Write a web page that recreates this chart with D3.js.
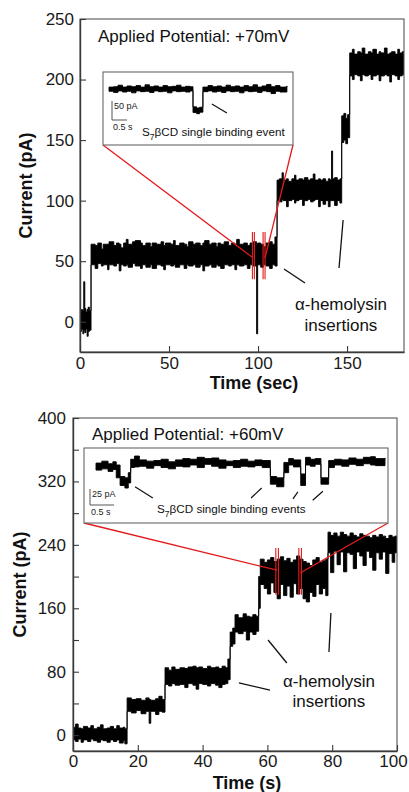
<!DOCTYPE html>
<html><head><meta charset="utf-8">
<script src="https://cdn.jsdelivr.net/npm/d3@7"></script>
<style>
body{margin:0;background:#fff;}
svg{display:block;font-family:"Liberation Sans",Arial,sans-serif;}
</style></head><body>
<svg id="c" width="409" height="792"></svg>
<script>
// ---------------- DATA ----------------
// Panel A (+70 mV): tick values
const topYTicks = [0, 50, 100, 150, 200, 250];
const topXTicks = [0, 50, 100, 150];
// Panel B (+60 mV): tick values
const botYTicks = [0, 40, 80, 120, 160, 200, 240, 280, 320, 360, 400];
const botYLabels = [0, 80, 160, 240, 320, 400];
const botXTicks = [0, 20, 40, 60, 80, 100];

// current trace envelopes: [time (s), low (pA), high (pA)]
const topTrace = [
  [0,-8,8],[0.8,-6,10],[1.6,-10,9],[2.1,-7,33],[2.7,-9,11],[3.3,-6,8],[4.0,-12,10],[4.6,-8,12],[5.3,-7,9],
  [6.2,47,64],[8.5,44,63],[10.0,48,65],[12.0,46,60],[13.0,47,64],[15.5,43,64],[16.3,47,66],[19.0,46,63],
  [20.5,48,65],[22.0,42,64],[23.0,47,61],[24.5,46,65],[26.0,47,68],[27.0,45,64],[29.5,48,66],[31.0,46,67],
  [34.0,44,65],[35.0,47,63],[37.0,45,65],[39.5,47,62],[40.5,44,65],[43.0,47,64],[45.5,46,66],[47.0,43,63],
  [48.0,47,65],[51.0,46,64],[52.5,47,67],[53.5,45,63],[56.0,47,65],[58.5,44,64],[60.0,47,62],[61.0,46,66],
  [63.5,47,64],[65.0,45,65],[67.5,47,63],[69.0,42,65],[70.0,46,67],[72.5,47,64],[74.0,45,65],[76.5,47,62],
  [77.5,46,65],[79.0,44,64],[81.0,47,66],[83.5,46,63],[85.0,47,65],[87.0,43,64],[88.0,47,68],[89.5,46,64],
  [92.0,47,65],[94.0,44,63],[95.5,47,65],[97.0,46,66],[99.2,-10,64],[99.8,47,65],[101.5,45,64],[103.0,47,62],
  [104.5,46,65],[106.5,44,66],[108.0,47,64],[109.5,46,70],
  [110.7,100,117],[112.0,99,118],[113.5,101,123],[114.2,100,117],[116.0,95,118],[117.0,100,116],[119.0,101,118],
  [120.5,98,121],[121.3,100,117],[123.0,101,118],[125.0,96,117],[126.0,100,119],[128.0,101,117],[129.5,99,118],
  [131.0,100,122],[132.0,101,117],[134.0,95,118],[135.0,100,117],[136.5,97,118],[138.0,100,116],[139.5,95,118],
  [140.5,100,117],[141.3,100,141],[141.9,100,118],[143.0,96,119],[144.5,100,117],[146.0,98,118],
  [147.0,148,170],[148.2,150,172],[149.3,147,168],[150.3,152,171],
  [151.5,203,222],[153.0,200,225],[154.0,204,221],[156.0,203,223],[157.5,199,222],[158.5,204,226],[160.0,203,221],
  [162.0,204,223],[163.5,200,222],[164.5,203,225],[166.5,204,221],[168.0,199,223],[169.0,203,222],[171.0,204,226],
  [172.5,203,221],[174.0,198,222],[175.0,204,223],[177.0,203,221],[178.5,200,225],[179.5,203,222],[181.0,204,223],
  [182.0,204,223]
];
const botTrace = [
  [0,-6,10],[0.8,-8,14],[1.6,-5,9],[2.5,-9,8],[3.2,-6,11],[4.5,-8,9],[5.5,-5,12],[6.3,-7,8],[7.5,-9,10],
  [8.5,-6,13],[9.3,-7,8],[10.5,-9,9],[11.5,-6,11],[12.5,-8,8],[13.5,-6,12],[14.3,-10,9],[15.5,-7,10],[16.0,-11,8],
  [16.7,30,47],[18.0,28,45],[19.5,31,46],[21.0,27,44],[22.5,30,47],[23.5,15,45],[24.0,30,44],[25.5,26,46],
  [26.5,30,49],[27.5,29,45],
  [28.4,64,85],[29.5,62,82],[30.5,65,86],[31.5,63,83],[33.0,64,85],[34.5,60,84],[35.5,65,86],[37.0,63,87],
  [38.0,58,85],[38.8,65,86],[40.0,64,84],[41.5,62,87],[42.5,65,85],[44.0,63,86],[45.0,60,84],[46.0,64,87],
  [47.0,65,85],[47.8,70,96],
  [48.5,112,130],[49.3,115,135],[50.0,130,152],[51.0,128,148],[52.5,131,153],[53.5,120,150],[54.5,130,149],
  [55.5,127,152],[56.5,131,150],[57.3,160,200],
  [57.8,190,222],[59.0,185,218],[60.0,178,221],[61.0,192,224],[62.0,180,219],[63.0,172,222],[64.0,190,225],
  [65.0,176,220],[66.0,188,223],[67.0,174,218],[68.0,191,221],[69.0,178,226],[70.0,185,222],[71.0,172,219],
  [72.0,168,217],[73.0,180,214],[74.0,175,221],[75.0,190,224],[76.0,178,218],[77.0,185,220],[78.0,176,222],
  [78.7,230,256],[79.5,205,252],[80.5,232,255],[81.5,215,251],[82.5,231,256],[83.5,206,253],[84.5,230,251],
  [85.5,228,255],[86.5,210,252],[87.5,231,250],[88.5,226,254],[89.5,214,252],[90.5,232,251],[91.5,224,249],
  [92.5,208,252],[93.5,230,250],[94.5,222,253],[95.5,231,251],[96.5,204,248],[97.5,229,252],[98.5,218,250],
  [99.3,230,251],[100,230,251]
];
// inset traces: [time (s), low, high] in pA relative to open-pore baseline
const topInsetTrace = [
  [0,-6,5],[0.15,-9,6],[0.3,-5,10],[0.45,-8,5],[0.6,-6,8],[0.75,-10,6],[0.9,-5,9],[1.05,-7,5],[1.2,-6,11],
  [1.35,-9,6],[1.5,-5,8],[1.65,-7,5],[1.8,-6,9],[1.95,-10,6],[2.1,-5,7],[2.25,-7,10],[2.4,-6,5],[2.55,-8,7],
  [2.7,-5,6],[2.8,-62,-47],[2.92,-65,-50],[3.02,-61,-48],[3.13,-7,5],[3.3,-5,9],[3.45,-8,6],[3.6,-6,8],
  [3.75,-9,5],[3.9,-5,10],[4.05,-7,6],[4.2,-6,8],[4.35,-10,5],[4.5,-5,9],[4.65,-7,6],[4.8,-6,11],[4.95,-9,5],
  [5.1,-5,8],[5.25,-7,12],[5.4,-12,6],[5.55,-6,9],[5.7,-8,5],[5.93,-5,8]
];
const botInsetTrace = [
  [0,-8,3],[0.12,-6,6],[0.25,-10,2],[0.35,-7,5],[0.42,-20,0],[0.5,-32,-18],[0.6,-36,-20],[0.67,-28,-12],
  [0.72,-4,9],[0.8,-3,14],[0.9,-2,8],[1.05,-5,6],[1.2,-1,7],[1.35,-4,9],[1.5,-6,5],[1.65,-2,8],[1.8,-3,10],
  [1.95,0,9],[2.1,-4,12],[2.25,1,10],[2.4,-2,11],[2.55,-5,8],[2.7,-1,6],[2.85,-4,7],[3.0,-2,9],[3.15,-3,6],
  [3.3,-1,8],[3.45,-4,7],[3.62,-30,-18],[3.75,-34,-20],[3.9,-12,4],[4.0,0,10],[4.1,-3,8],[4.25,-32,-14],
  [4.35,0,12],[4.45,-2,9],[4.55,1,10],[4.67,-30,-20],[4.83,-4,7],[4.95,0,9],[5.1,-2,8],[5.25,1,11],[5.4,-1,9],
  [5.55,2,12],[5.7,0,13],[5.8,-1,10],[6.0,1,11]
];

// zoom windows (s) and their marker extents (pA)
const topZoomWindow = [97.4, 103.4];
const topZoomRange = [35, 74];
const topZoomLinks = [[96.6, 53.4], [103.9, 52.6]];
const botZoomWindow = [63.0, 70.1];
const botZoomRange = [177, 236];
const botZoomLinks = [[63.0, 208], [70.1, 204.5]];

// annotation pointers [[t,pA],[t,pA]]
const topPointers = [[[114.6,43.5],[126.4,32]], [[147.8,84],[145.5,44.4]]];
const botPointers = [[[51.2,65.8],[60.8,56.9]], [[60.2,120],[66,91]], [[79.6,154],[79,104.8]]];
const topInsetPointers = [[[3.43,-39.5],[3.93,-63]]];
const botInsetPointers = [[[0.81,-34],[1.18,-51.6]], [[3.22,-51.6],[3.44,-36]], [[4.09,-53],[4.19,-42]], [[4.5,-55],[4.71,-41]]];

// texts
const topTitle = "Applied Potential: +70mV";
const botTitle = "Applied Potential: +60mV";
const topXTitle = "Time (sec)";
const botXTitle = "Time (s)";
const yTitle = "Current (pA)";
const insertLabel = ["\u03b1-hemolysin", "insertions"];
const topScaleBar = {pA: 50, s: 0.5};
const botScaleBar = {pA: 25, s: 0.5};

// ---------------- DRAW ----------------
const svg = d3.select('#c');
const RED = '#e31a1c';
const AX = '#3a3a3a';

function lines(g, x, y, segs, color, w) {
  g.selectAll(null).data(segs).enter().append('line')
    .attr('x1', d => x(d[0][0])).attr('y1', d => y(d[0][1]))
    .attr('x2', d => x(d[1][0])).attr('y2', d => y(d[1][1]))
    .attr('stroke', color).attr('stroke-width', w);
}

function trace(g, x, y, data, clip) {
  const area = d3.area().x(d => x(d[0])).y0(d => y(d[1])).y1(d => y(d[2])).curve(d3.curveStepAfter);
  const p = g.append('path').datum(data).attr('d', area)
    .attr('fill', '#000').attr('stroke', '#000').attr('stroke-width', 0.9).attr('stroke-linejoin','miter');
  if (clip) p.attr('clip-path', `url(#${clip})`);
}

function panel(c) {
  const x = d3.scaleLinear().domain(c.xDomain).range([c.x0, c.x1]);
  const y = d3.scaleLinear().domain(c.yDomain).range([c.y1, c.y0]);
  const g = svg.append('g');
  const clipId = 'clip' + c.name;
  svg.append('clipPath').attr('id', clipId).append('rect')
    .attr('x', c.x0).attr('y', c.y0).attr('width', c.x1 - c.x0).attr('height', c.y1 - c.y0);

  trace(g, x, y, c.trace, clipId);

  // frame
  g.append('rect').attr('x', c.x0).attr('y', c.y0).attr('width', c.x1 - c.x0).attr('height', c.y1 - c.y0)
    .attr('fill', 'none').attr('stroke', '#555').attr('stroke-width', 1.1);

  // axes (inward ticks)
  const ya = d3.axisLeft(y).tickValues(c.yTicks).tickSizeInner(-6).tickSizeOuter(0).tickPadding(c.yPad)
    .tickFormat(d => c.yLabels.includes(d) ? d : '');
  const gy = g.append('g').attr('transform', `translate(${c.x0},0)`).call(ya);
  const xa = d3.axisBottom(x).tickValues(c.xTicks).tickSizeInner(-6).tickSizeOuter(0).tickPadding(c.xPad);
  const gx = g.append('g').attr('transform', `translate(0,${c.y1})`).call(xa);
  [gx, gy].forEach(a => {
    a.select('.domain').attr('stroke', AX).attr('stroke-width', 1.4);
    a.selectAll('.tick line').attr('stroke', AX).attr('stroke-width', 1.1);
    a.selectAll('.tick text').attr('fill', '#1a1a1a').style('font-size', '17px')
      .style('font-family', '"Liberation Sans",Arial,sans-serif');
  });
  // keep the last x label inside the window
  gx.selectAll('.tick text').filter(d => x(d) + 15 > 409).attr('dx', -4);

  // titles
  g.append('text').attr('x', c.titleX).attr('y', c.titleY).text(c.title)
    .attr('fill', '#111').style('font-size', '17px');
  g.append('text').attr('x', c.xTitleX).attr('y', c.xTitleY).attr('text-anchor', 'middle').text(c.xTitle)
    .attr('fill', '#111').style('font-size', '18px').style('font-weight', 'bold');
  g.append('text').attr('transform', `translate(${c.yTitleX},${(c.y0 + c.y1) / 2}) rotate(-90)`)
    .attr('text-anchor', 'middle').text(yTitle)
    .attr('fill', '#111').style('font-size', '18px').style('font-weight', 'bold');

  // annotation text
  g.selectAll(null).data(insertLabel).enter().append('text')
    .attr('x', x(c.labelAt[0])).attr('y', (d, i) => y(c.labelAt[1]) + i * c.labelGap)
    .attr('text-anchor', 'middle').text(d => d).attr('fill', '#111').style('font-size', '17px');
  lines(g, x, y, c.pointers, '#111', 1.3);

  // zoom markers
  const zw = c.zoomWindow;
  const pairs = [];
  zw.forEach(t => { pairs.push(t - c.pairGap / 2, t + c.pairGap / 2); });
  g.selectAll(null).data(pairs).enter().append('line')
    .attr('x1', d => x(d)).attr('x2', d => x(d))
    .attr('y1', y(c.zoomRange[0])).attr('y2', y(c.zoomRange[1]))
    .attr('stroke', RED).attr('stroke-width', 1.1);

  // inset
  const ib = c.inset;
  const ix = d3.scaleLinear().domain([0, 6]).range(ib.xr);
  const iy = d3.scaleLinear().domain([0, ib.pAref]).range([ib.base, ib.base - ib.pxPerRef]);
  const corners = [[ib.x0, ib.y1], [ib.x1, ib.y1]];
  g.selectAll(null).data(c.zoomLinks).enter().append('line')
    .attr('x1', (d, i) => corners[i][0]).attr('y1', (d, i) => corners[i][1])
    .attr('x2', d => x(d[0])).attr('y2', d => y(d[1]))
    .attr('stroke', RED).attr('stroke-width', 1.3);
  g.append('rect').attr('x', ib.x0).attr('y', ib.y0).attr('width', ib.x1 - ib.x0).attr('height', ib.y1 - ib.y0)
    .attr('fill', '#fff').attr('stroke', '#666').attr('stroke-width', 1.1);
  trace(g, ix, iy, ib.trace, null);
  lines(g, ix, iy, ib.pointers, '#111', 1.2);
  // scale bar
  const sbx = ib.sbX, sby = ib.sbY;
  const vlen = iy(0) - iy(ib.bar.pA);
  const hlen = ix(ib.bar.s) - ix(0);
  g.append('path').attr('d', `M${sbx},${sby - vlen}V${sby}H${sbx + hlen}`)
    .attr('fill', 'none').attr('stroke', '#555').attr('stroke-width', 1);
  g.append('text').attr('x', sbx + 2).attr('y', sby - vlen + 8).text(ib.bar.pA + ' pA')
    .attr('fill', '#222').style('font-size', '9px');
  g.append('text').attr('x', sbx + 1).attr('y', sby + 10).text(ib.bar.s + ' s')
    .attr('fill', '#222').style('font-size', '9px');
  const lt = g.append('text').attr('x', ib.labelX).attr('y', ib.labelY).attr('fill', '#111').style('font-size', '11.7px');
  lt.append('tspan').text('S');
  lt.append('tspan').attr('dy', 4).style('font-size', '8.5px').text('7');
  lt.append('tspan').attr('dy', -4).text('\u03b2CD ' + ib.label);
}

panel({
  name: 'A', xDomain: [0, 182], yDomain: [-25, 250], x0: 80, x1: 404, y0: 19, y1: 352,
  trace: topTrace, yTicks: topYTicks, yLabels: topYTicks, xTicks: topXTicks, yPad: 6, xPad: 5,
  title: topTitle, titleX: 98, titleY: 42, xTitle: topXTitle, xTitleX: 254, xTitleY: 389, yTitleX: 32,
  labelAt: [146.6, 9.7], labelGap: 21, pointers: topPointers,
  zoomWindow: topZoomWindow, zoomRange: topZoomRange, zoomLinks: topZoomLinks, pairGap: 1.1,
  inset: { x0: 103, x1: 293, y0: 72, y1: 145, xr: [109, 289], base: 89, pAref: 50, pxPerRef: 19,
    trace: topInsetTrace, pointers: topInsetPointers, bar: topScaleBar, sbX: 112, sbY: 120,
    labelX: 142, labelY: 136, label: 'single binding event' }
});

panel({
  name: 'B', xDomain: [0, 100], yDomain: [-20, 400], x0: 73, x1: 397, y0: 418, y1: 751,
  trace: botTrace, yTicks: botYTicks, yLabels: botYLabels, xTicks: botXTicks, yPad: 7, xPad: 4,
  title: botTitle, titleX: 92, titleY: 440, xTitle: botXTitle, xTitleX: 247, xTitleY: 789, yTitleX: 26,
  labelAt: [79, 60.7], labelGap: 20, pointers: botPointers,
  zoomWindow: botZoomWindow, zoomRange: botZoomRange, zoomLinks: botZoomLinks, pairGap: 0.8,
  inset: { x0: 84, x1: 388, y0: 448, y1: 523, xr: [96, 385], base: 465, pAref: 25, pxPerRef: 16,
    trace: botInsetTrace, pointers: botInsetPointers, bar: botScaleBar, sbX: 90, sbY: 505,
    labelX: 157, labelY: 513, label: 'single binding events' }
});
</script>
</body></html>
